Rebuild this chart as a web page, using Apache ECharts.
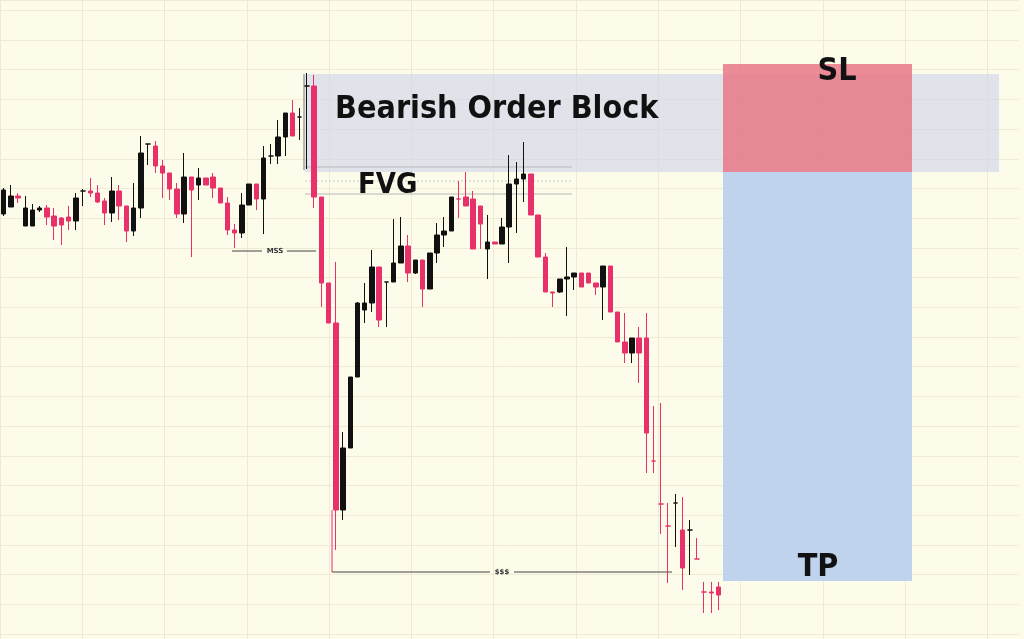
<!DOCTYPE html>
<html>
<head>
<meta charset="UTF-8">
<title>Bearish Order Block</title>
<script src="https://cdn.jsdelivr.net/npm/echarts@6/dist/echarts.min.js"></script>
<style>
html,body{margin:0;padding:0;background:#fdfbe9}
#main{width:1024px;height:639px}
</style>
</head>
<body>
<div id="main"></div>
<script>
// candles, price = 634 - pixel row
var opens  = [420,427,438,408,408,424,426,418,416,417,413,443,443,441,433,421,443,428,403,426,490,488,468,461,445,420,457,449,456,457,446,431,404,401,429,450,435,478,478,497,521,517,548,548,437,351,311,124,186,257,324,331,367,352,352,371,388,361,374,345,381,399,403,435,437,435,428,385,392,390,407,450,455,460,419,377,342,342,355,357,361,361,351,347,368,322,292,281,296,296,173,130,108,131,104,104,75,42,42,47];
var closes = [444,438,436,426,424,426,417,408,409,413,436,443,441,432,421,443,428,403,426,481,490,468,461,445,420,457,444,456,449,446,431,404,401,429,450,435,476,478,497,521,498,517,548,437,351,311,124,186,257,331,331,367,314,352,371,388,361,374,345,381,399,403,437,435,428,385,410,392,390,407,450,455,460,419,377,342,341,355,357,361,347,351,347,368,322,292,281,296,281,201,173,130,108,131,66,104,75,42,41,39];
var lows   = [418,427,431,408,408,422,409,394,389,404,404,428,437,431,409,412,414,392,398,416,469,461,436,434,416,411,377,434,454,436,431,399,386,396,429,424,400,470,470,478,514,494,465,426,327,311,84,114,237,311,311,322,307,307,415,417,352,360,327,345,371,387,403,416,435,435,385,355,390,390,371,401,432,419,406,342,327,341,318,344,359,351,339,314,349,322,271,271,251,161,161,100,51,87,44,59,96,21,21,24];
var highs  = [446,449,441,438,430,428,429,426,417,428,441,445,456,449,436,457,449,428,451,498,490,493,474,456,451,481,444,466,456,461,440,437,410,441,450,450,488,490,514,521,534,526,561,559,437,351,372,202,237,332,351,384,314,352,415,417,399,373,374,363,411,417,437,453,462,443,428,419,392,416,479,472,492,434,406,381,341,355,387,357,361,361,351,368,322,292,321,296,307,321,228,231,131,140,137,114,96,52,52,52];

var nCats = 141;
var cats = [];
for (var i = 0; i < nCats; i++) cats.push(i);
var candles = [];
for (var i = 0; i < opens.length; i++) candles.push([opens[i], closes[i], lows[i], highs[i]]);

var pink = '#e8306a';
var gridColor = '#efebd2';
var labelFont = '"Liberation Sans Narrow","DejaVu Sans Condensed",sans-serif';

var chart = echarts.init(document.getElementById('main'));
chart.setOption({
    backgroundColor: '#fdfbe9',
    animation: false,
    grid: [
        {left: -3.6, right: 5.6, top: 0, bottom: 5},
        {left: -58.7, right: 0, top: 0, bottom: 0}
    ],
    xAxis: [
        {type: 'category', gridIndex: 0, data: cats, show: false},
        {type: 'value', gridIndex: 1, min: 0, max: 1082.7, interval: 87,
         axisLine: {show: false}, axisTick: {show: false}, axisLabel: {show: false},
         splitLine: {show: true, lineStyle: {color: gridColor, width: 1}}}
    ],
    yAxis: [
        {type: 'value', gridIndex: 0, min: 0, max: 634, interval: 29.7,
         axisLine: {show: false}, axisTick: {show: false}, axisLabel: {show: false},
         splitLine: {show: true, lineStyle: {color: gridColor, width: 1}}},
        {type: 'value', gridIndex: 1, show: false}
    ],
    graphic: [
        // order block / SL / TP zones
        {type: 'rect', z: 1, shape: {x: 305, y: 74, width: 694, height: 98}, style: {fill: 'rgba(205,214,235,0.6)'}},
        {type: 'rect', z: 2, shape: {x: 723, y: 64, width: 189, height: 108}, style: {fill: 'rgba(232,120,135,0.85)'}},
        {type: 'rect', z: 1, shape: {x: 723, y: 172, width: 189, height: 409}, style: {fill: '#bfd3ec'}},
        // FVG lines
        {type: 'line', z: 3, shape: {x1: 305, y1: 167, x2: 572, y2: 167}, style: {stroke: '#b8b8b8', lineWidth: 1}},
        {type: 'line', z: 3, shape: {x1: 305, y1: 181, x2: 572, y2: 181}, style: {stroke: '#cccccc', lineWidth: 1, lineDash: [2, 2]}},
        {type: 'line', z: 3, shape: {x1: 305, y1: 194, x2: 572, y2: 194}, style: {stroke: '#b8b8b8', lineWidth: 1}},
        {type: 'line', z: 3, shape: {x1: 304, y1: 74, x2: 304, y2: 170}, style: {stroke: '#777', lineWidth: 1}},
        // MSS
        {type: 'line', z: 3, shape: {x1: 232, y1: 251, x2: 262, y2: 251}, style: {stroke: '#444', lineWidth: 1}},
        {type: 'line', z: 3, shape: {x1: 287, y1: 251, x2: 316, y2: 251}, style: {stroke: '#444', lineWidth: 1}},
        {type: 'text', z: 3, style: {x: 275, y: 251, text: 'MSS', fill: '#333', font: 'bold 7px "DejaVu Sans"', align: 'center', verticalAlign: 'middle'}},
        // $$$
        {type: 'line', z: 3, shape: {x1: 332, y1: 572, x2: 490, y2: 572}, style: {stroke: '#444', lineWidth: 1}},
        {type: 'line', z: 3, shape: {x1: 514, y1: 572, x2: 672, y2: 572}, style: {stroke: '#444', lineWidth: 1}},
        {type: 'line', z: 3, shape: {x1: 332, y1: 510, x2: 332, y2: 572}, style: {stroke: pink, lineWidth: 1}},
        {type: 'text', z: 3, style: {x: 502, y: 572, text: '$$$', fill: '#333', font: 'bold 7px "DejaVu Sans"', align: 'center', verticalAlign: 'middle'}},
        // labels
        {type: 'text', z: 4, style: {x: 335, y: 110, text: 'Bearish Order Block', fill: '#111', font: 'bold 32px ' + labelFont, verticalAlign: 'middle'}},
        {type: 'text', z: 4, style: {x: 358, y: 185, text: 'FVG', fill: '#111', font: 'bold 29px ' + labelFont, verticalAlign: 'middle'}},
        {type: 'text', z: 4, style: {x: 837, y: 72, text: 'SL', fill: '#111', font: 'bold 32px ' + labelFont, align: 'center', verticalAlign: 'middle'}},
        {type: 'text', z: 4, style: {x: 818, y: 568, text: 'TP', fill: '#111', font: 'bold 32px ' + labelFont, align: 'center', verticalAlign: 'middle'}}
    ],
    series: [{
        type: 'candlestick',
        xAxisIndex: 0,
        yAxisIndex: 0,
        z: 5,
        barWidth: 5,
        data: candles,
        itemStyle: {
            color: '#111111',
            color0: pink,
            borderColor: '#111111',
            borderColor0: pink,
            borderWidth: 1
        }
    }]
});
</script>
</body>
</html>
